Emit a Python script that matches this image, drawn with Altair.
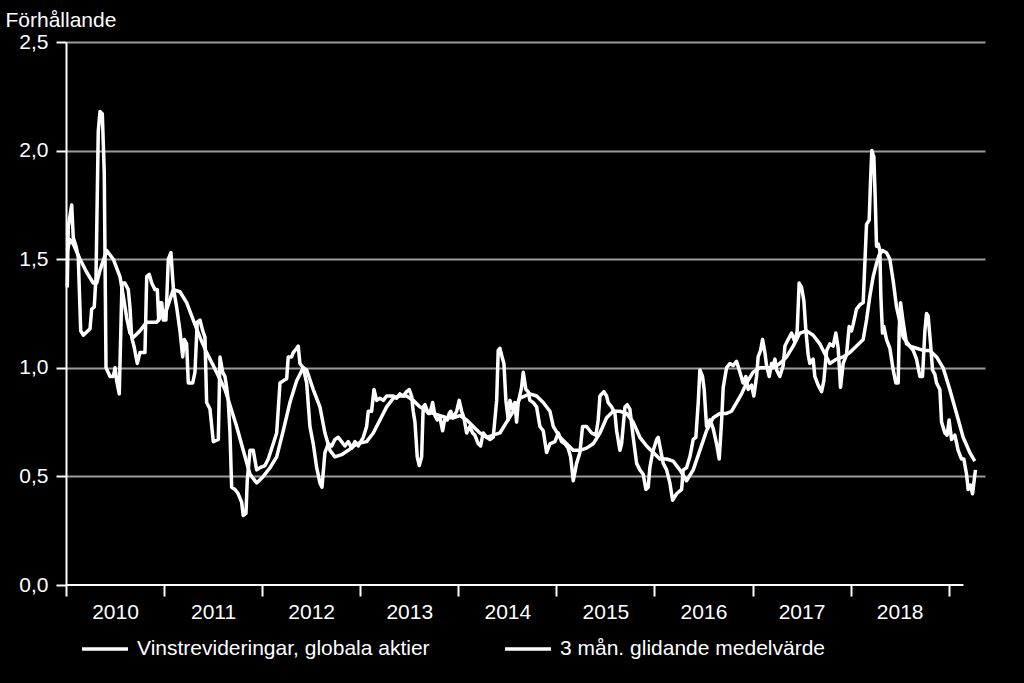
import altair as alt
import pandas as pd

# Weekly earnings revision ratio (decimal years)
RAW_X = [2010.013, 2010.023, 2010.058, 2010.074, 2010.102, 2010.125, 2010.150, 2010.176, 2010.245, 2010.262,
         2010.288, 2010.306, 2010.329, 2010.347, 2010.370, 2010.390, 2010.408, 2010.449, 2010.482, 2010.500,
         2010.517, 2010.543, 2010.561, 2010.571, 2010.601, 2010.635, 2010.652, 2010.670, 2010.693, 2010.727,
         2010.754, 2010.805, 2010.823, 2010.849, 2010.874, 2010.907, 2010.931, 2010.945, 2010.958, 2010.976,
         2010.992, 2011.019, 2011.043, 2011.070, 2011.094, 2011.128, 2011.162, 2011.190, 2011.206, 2011.230,
         2011.247, 2011.292, 2011.315, 2011.338, 2011.366, 2011.394, 2011.417, 2011.434, 2011.468, 2011.502,
         2011.553, 2011.570, 2011.597, 2011.621, 2011.638, 2011.654, 2011.672, 2011.689, 2011.723, 2011.756,
         2011.791, 2011.807, 2011.835, 2011.848, 2011.876, 2011.909, 2011.944, 2011.978, 2012.029, 2012.062,
         2012.113, 2012.148, 2012.182, 2012.215, 2012.250, 2012.266, 2012.301, 2012.317, 2012.352, 2012.368,
         2012.385, 2012.419, 2012.454, 2012.487, 2012.521, 2012.556, 2012.589, 2012.610, 2012.640, 2012.674,
         2012.709, 2012.742, 2012.776, 2012.810, 2012.844, 2012.878, 2012.912, 2012.946, 2012.980, 2013.031,
         2013.065, 2013.082, 2013.116, 2013.140, 2013.167, 2013.201, 2013.235, 2013.269, 2013.337, 2013.371,
         2013.405, 2013.438, 2013.473, 2013.500, 2013.524, 2013.540, 2013.558, 2013.581, 2013.602, 2013.626,
         2013.642, 2013.660, 2013.693, 2013.711, 2013.738, 2013.762, 2013.785, 2013.813, 2013.840, 2013.864,
         2013.887, 2013.907, 2013.922, 2013.948, 2013.983, 2014.009, 2014.034, 2014.057, 2014.085, 2014.118,
         2014.146, 2014.169, 2014.203, 2014.227, 2014.254, 2014.289, 2014.322, 2014.356, 2014.391, 2014.407,
         2014.424, 2014.452, 2014.465, 2014.485, 2014.509, 2014.526, 2014.554, 2014.577, 2014.594, 2014.611,
         2014.645, 2014.662, 2014.689, 2014.713, 2014.730, 2014.764, 2014.798, 2014.832, 2014.866, 2014.900,
         2014.934, 2014.985, 2015.019, 2015.053, 2015.087, 2015.120, 2015.145, 2015.172, 2015.206, 2015.240,
         2015.267, 2015.308, 2015.359, 2015.403, 2015.426, 2015.444, 2015.484, 2015.512, 2015.528, 2015.563,
         2015.597, 2015.614, 2015.648, 2015.665, 2015.699, 2015.722, 2015.749, 2015.783, 2015.818, 2015.851,
         2015.885, 2015.913, 2015.936, 2015.953, 2015.981, 2016.022, 2016.038, 2016.055, 2016.089, 2016.124,
         2016.157, 2016.185, 2016.226, 2016.277, 2016.293, 2016.327, 2016.361, 2016.395, 2016.422, 2016.446,
         2016.463, 2016.490, 2016.507, 2016.531, 2016.565, 2016.599, 2016.633, 2016.660, 2016.684, 2016.701,
         2016.735, 2016.769, 2016.802, 2016.837, 2016.871, 2016.904, 2016.932, 2016.955, 2016.990, 2017.013,
         2017.041, 2017.057, 2017.082, 2017.102, 2017.126, 2017.143, 2017.170, 2017.194, 2017.210, 2017.228,
         2017.245, 2017.278, 2017.312, 2017.330, 2017.363, 2017.398, 2017.431, 2017.455, 2017.475, 2017.500,
         2017.523, 2017.544, 2017.567, 2017.584, 2017.618, 2017.635, 2017.669, 2017.704, 2017.727, 2017.755,
         2017.788, 2017.822, 2017.849, 2017.873, 2017.897, 2017.924, 2017.958, 2017.985, 2018.009, 2018.026,
         2018.060, 2018.094, 2018.128, 2018.145, 2018.162, 2018.189, 2018.203, 2018.216, 2018.237, 2018.250,
         2018.264, 2018.281, 2018.298, 2018.308, 2018.325, 2018.339, 2018.366, 2018.400, 2018.434, 2018.461,
         2018.485, 2018.495, 2018.509, 2018.536, 2018.570, 2018.604, 2018.638, 2018.672, 2018.706, 2018.733,
         2018.757, 2018.774, 2018.790, 2018.815, 2018.835, 2018.859, 2018.876, 2018.910, 2018.927, 2018.961,
         2018.984, 2019.004, 2019.029, 2019.063, 2019.096, 2019.131, 2019.154, 2019.182, 2019.198, 2019.222,
         2019.243, 2019.259, 2019.273]
RAW_Y = [1.37, 1.65, 1.75, 1.60, 1.56, 1.51, 1.17, 1.15, 1.18, 1.27,
         1.28, 1.42, 2.09, 2.18, 2.17, 1.90, 1.00, 0.96, 0.96, 1.00,
         0.94, 0.88, 1.21, 1.39, 1.39, 1.36, 1.28, 1.14, 1.10, 1.02,
         1.07, 1.07, 1.42, 1.43, 1.39, 1.36, 1.36, 1.22, 1.30, 1.30,
         1.22, 1.22, 1.50, 1.53, 1.37, 1.28, 1.17, 1.05, 1.13, 1.11,
         0.93, 0.93, 0.98, 1.21, 1.22, 1.17, 1.14, 0.84, 0.81, 0.66,
         0.67, 1.05, 0.98, 0.96, 0.91, 0.85, 0.70, 0.45, 0.44, 0.42,
         0.38, 0.32, 0.33, 0.48, 0.62, 0.62, 0.53, 0.54, 0.55, 0.58,
         0.65, 0.70, 0.93, 0.94, 0.95, 1.05, 1.05, 1.07, 1.09, 1.10,
         1.02, 1.00, 0.93, 0.73, 0.65, 0.54, 0.47, 0.45, 0.61, 0.65,
         0.64, 0.67, 0.68, 0.66, 0.64, 0.66, 0.63, 0.66, 0.64, 0.68,
         0.73, 0.80, 0.80, 0.90, 0.85, 0.86, 0.85, 0.87, 0.87, 0.86,
         0.88, 0.87, 0.89, 0.90, 0.87, 0.80, 0.75, 0.59, 0.55, 0.59,
         0.82, 0.83, 0.79, 0.79, 0.84, 0.78, 0.76, 0.77, 0.71, 0.77,
         0.76, 0.79, 0.80, 0.77, 0.80, 0.85, 0.80, 0.77, 0.70, 0.73,
         0.70, 0.69, 0.65, 0.64, 0.70, 0.68, 0.67, 0.68, 0.85, 1.08,
         1.09, 1.04, 1.02, 0.85, 0.76, 0.85, 0.81, 0.84, 0.75, 0.84,
         0.91, 0.98, 0.90, 0.89, 0.85, 0.84, 0.82, 0.73, 0.71, 0.61,
         0.65, 0.66, 0.70, 0.66, 0.65, 0.63, 0.59, 0.48, 0.56, 0.61,
         0.73, 0.73, 0.70, 0.69, 0.76, 0.87, 0.89, 0.87, 0.84, 0.82,
         0.79, 0.71, 0.62, 0.65, 0.82, 0.83, 0.81, 0.68, 0.56, 0.53,
         0.51, 0.44, 0.45, 0.54, 0.61, 0.67, 0.68, 0.64, 0.56, 0.53,
         0.47, 0.39, 0.42, 0.44, 0.53, 0.54, 0.59, 0.67, 0.68, 0.84,
         0.99, 0.96, 0.90, 0.73, 0.76, 0.72, 0.65, 0.58, 0.75, 0.91,
         1.00, 1.02, 1.01, 1.03, 0.98, 0.93, 0.96, 0.90, 0.92, 0.87,
         0.96, 1.05, 1.08, 1.13, 1.07, 1.01, 0.96, 1.02, 1.01, 1.04,
         0.99, 0.96, 1.01, 1.10, 1.13, 1.16, 1.12, 1.17, 1.39, 1.37,
         1.31, 1.17, 1.06, 1.02, 1.04, 0.96, 0.92, 0.89, 0.94, 1.08,
         1.11, 1.10, 1.16, 1.09, 0.91, 1.02, 1.06, 1.19, 1.17, 1.20,
         1.27, 1.29, 1.30, 1.48, 1.66, 1.68, 1.86, 2.00, 1.97, 1.79,
         1.56, 1.57, 1.54, 1.33, 1.16, 1.19, 1.13, 1.09, 0.99, 0.93,
         0.93, 1.17, 1.30, 1.21, 1.11, 1.10, 1.08, 1.04, 0.96, 0.96,
         1.17, 1.25, 1.24, 1.11, 0.99, 0.97, 0.93, 0.90, 0.75, 0.70,
         0.69, 0.76, 0.67, 0.69, 0.62, 0.58, 0.58, 0.51, 0.44, 0.46,
         0.42, 0.48, 0.53]

# 3-month moving average
MA_X = [2010.013, 2010.041, 2010.074, 2010.143, 2010.211, 2010.278, 2010.313, 2010.347, 2010.415, 2010.482,
        2010.550, 2010.584, 2010.619, 2010.652, 2010.686, 2010.754, 2010.823, 2010.925, 2010.958, 2011.027,
        2011.094, 2011.162, 2011.230, 2011.298, 2011.366, 2011.434, 2011.502, 2011.621, 2011.740, 2011.807,
        2011.876, 2011.944, 2012.011, 2012.080, 2012.148, 2012.215, 2012.283, 2012.352, 2012.419, 2012.454,
        2012.521, 2012.589, 2012.640, 2012.691, 2012.742, 2012.810, 2012.878, 2012.963, 2013.065, 2013.133,
        2013.201, 2013.269, 2013.337, 2013.405, 2013.473, 2013.540, 2013.609, 2013.677, 2013.744, 2013.813,
        2013.881, 2013.948, 2014.016, 2014.085, 2014.152, 2014.220, 2014.289, 2014.356, 2014.424, 2014.492,
        2014.560, 2014.628, 2014.730, 2014.798, 2014.866, 2014.934, 2014.968, 2015.036, 2015.104, 2015.172,
        2015.240, 2015.308, 2015.375, 2015.444, 2015.512, 2015.580, 2015.648, 2015.716, 2015.783, 2015.851,
        2015.920, 2015.987, 2016.055, 2016.124, 2016.191, 2016.259, 2016.327, 2016.395, 2016.463, 2016.531,
        2016.599, 2016.667, 2016.735, 2016.786, 2016.837, 2016.888, 2016.939, 2017.006, 2017.075, 2017.143,
        2017.210, 2017.278, 2017.347, 2017.414, 2017.482, 2017.551, 2017.618, 2017.686, 2017.720, 2017.788,
        2017.856, 2017.924, 2017.992, 2018.060, 2018.128, 2018.162, 2018.196, 2018.230, 2018.264, 2018.291,
        2018.325, 2018.366, 2018.400, 2018.434, 2018.468, 2018.502, 2018.536, 2018.604, 2018.672, 2018.740,
        2018.808, 2018.876, 2018.943, 2019.011, 2019.080, 2019.147, 2019.215, 2019.266]
MA_Y = [1.54, 1.59, 1.57, 1.50, 1.44, 1.39, 1.39, 1.45, 1.54, 1.50,
        1.42, 1.33, 1.23, 1.16, 1.14, 1.17, 1.21, 1.21, 1.23, 1.27,
        1.36, 1.35, 1.30, 1.22, 1.14, 1.07, 1.01, 0.90, 0.73, 0.62,
        0.51, 0.47, 0.50, 0.54, 0.59, 0.71, 0.84, 0.94, 1.00, 0.99,
        0.90, 0.82, 0.70, 0.62, 0.59, 0.60, 0.62, 0.65, 0.66, 0.70,
        0.76, 0.82, 0.86, 0.87, 0.87, 0.85, 0.82, 0.80, 0.79, 0.78,
        0.77, 0.77, 0.78, 0.76, 0.73, 0.70, 0.68, 0.69, 0.70, 0.75,
        0.80, 0.86, 0.88, 0.87, 0.84, 0.80, 0.73, 0.68, 0.65, 0.62,
        0.62, 0.63, 0.65, 0.70, 0.77, 0.80, 0.80, 0.79, 0.75, 0.68,
        0.64, 0.61, 0.58, 0.58, 0.57, 0.53, 0.48, 0.53, 0.62, 0.71,
        0.77, 0.79, 0.79, 0.80, 0.84, 0.88, 0.93, 0.98, 1.00, 1.00,
        1.00, 1.02, 1.05, 1.10, 1.16, 1.17, 1.15, 1.11, 1.08, 1.02,
        1.04, 1.05, 1.07, 1.10, 1.13, 1.22, 1.33, 1.42, 1.48, 1.52,
        1.54, 1.53, 1.50, 1.40, 1.28, 1.21, 1.14, 1.10, 1.09, 1.08,
        1.08, 1.05, 1.00, 0.90, 0.79, 0.68, 0.61, 0.57]

SERIES = ["Vinstrevideringar, globala aktier", "3 mån. glidande medelvärde"]
X_TICKS = list(range(2010, 2020))
Y_TICKS = [0.0, 0.5, 1.0, 1.5, 2.0, 2.5]
X_DOMAIN = [2010, 2019.37]
X_AXIS_END = 2019.15

df = pd.concat([
    pd.DataFrame({"x": RAW_X, "y": RAW_Y, "serie": SERIES[0]}),
    pd.DataFrame({"x": MA_X, "y": MA_Y, "serie": SERIES[1]}),
])

FONT = "Liberation Sans"

x_scale = alt.Scale(domain=X_DOMAIN, nice=False, zero=False)
y_scale = alt.Scale(domain=[0, 2.5], nice=False)

lines = alt.Chart(df).mark_line(strokeWidth=3.5, strokeJoin="round").encode(
    x=alt.X("x:Q", scale=x_scale, axis=alt.Axis(
        values=X_TICKS, format="d", labelExpr="datum.value >= 2019 ? '' : datum.label",
        domain=False, grid=False, tickSize=11, tickWidth=2, tickColor="white",
        labelOffset=49, labelPadding=5, labelFlush=False, labelOverlap=False, labelBound=False,
        labelFontSize=21, labelColor="white", labelFont=FONT, title=None)),
    y=alt.Y("y:Q", scale=y_scale, axis=alt.Axis(
        values=Y_TICKS, labelExpr="replace(format(datum.value, '.1f'), '.', ',')",
        domain=True, domainColor="white", domainWidth=2,
        grid=True, gridColor="#9c9c9c", gridWidth=2,
        gridOpacity={"condition": {"test": "datum.value === 0", "value": 0}, "value": 1},
        tickSize=10, tickWidth=2, tickColor="white",
        labelPadding=8, labelFontSize=21, labelColor="white", labelFont=FONT,
        title="Förhållande", titleAngle=0, titleAlign="left", titleBaseline="alphabetic",
        titleX=-61, titleY=-16, titleFontSize=21, titleFontWeight="normal",
        titleColor="white", titleFont=FONT)),
    color=alt.Color("serie:N", scale=alt.Scale(domain=SERIES, range=["white", "white"]),
                    legend=alt.Legend(
                        title=None, orient="none", legendX=14, legendY=582,
                        direction="horizontal", symbolType="stroke", symbolSize=2116,
                        symbolStrokeWidth=3.5, labelFontSize=21, labelColor="white",
                        labelFont=FONT, labelOffset=7, columnPadding=68, padding=0,
                        labelLimit=600)),
    detail="serie:N",
    order="x:Q",
)

axis_df = pd.DataFrame({"x": [X_DOMAIN[0]], "x2": [X_AXIS_END], "y": [0.0]})
x_axis_line = alt.Chart(axis_df).mark_rule(color="white", strokeWidth=2).encode(
    x=alt.X("x:Q", scale=x_scale),
    x2="x2:Q",
    y=alt.Y("y:Q", scale=y_scale),
)

chart = alt.layer(lines, x_axis_line).properties(
    width=919, height=543,
    autosize=alt.AutoSizeParams(type="none"),
    padding={"left": 66, "top": 42, "right": 39, "bottom": 98},
    background="black",
).configure(font=FONT).configure_view(stroke=None)

chart.save("out.html", embed_options={"renderer": "svg", "actions": False})
